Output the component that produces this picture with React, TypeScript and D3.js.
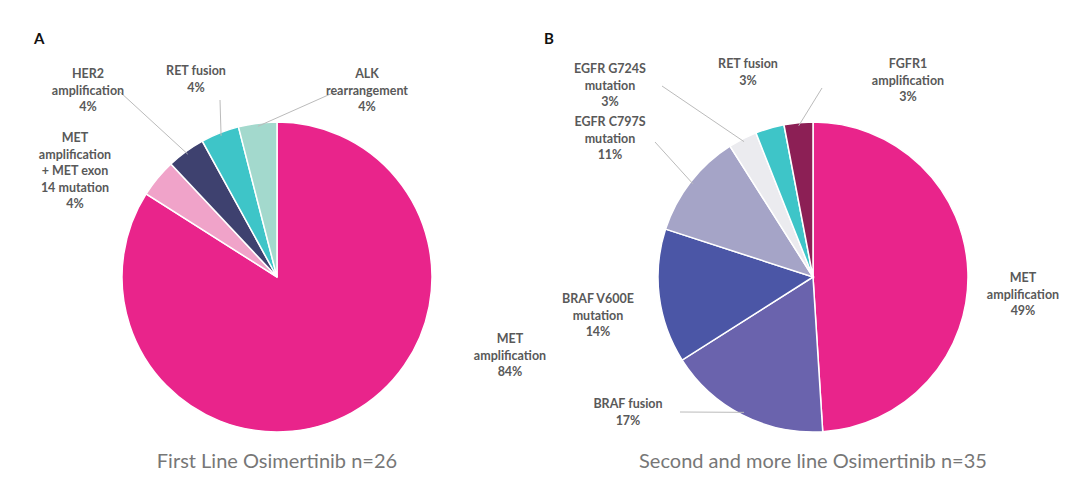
import React from 'react';
import * as d3 from 'd3';

const labelsA = ['MET amplification', 'MET amplification + MET exon 14 mutation', 'HER2 amplification', 'RET fusion', 'ALK rearrangement'];
const valuesA = [84, 4, 4, 4, 4];
const colorsA = ['#e9248b', '#f0a3c9', '#3e416f', '#3ec5c8', '#a3d9cd'];
const textA = [
  ['MET', 'amplification', '84%'],
  ['MET', 'amplification', '+ MET exon', '14 mutation', '4%'],
  ['HER2', 'amplification', '4%'],
  ['RET fusion', '4%'],
  ['ALK', 'rearrangement', '4%'],
];
const posA: [number, number, boolean][] = [[510, 343, false], [75, 142, false], [88, 78, true], [196, 75, true], [367, 78, true]];

const labelsB = ['MET amplification', 'BRAF fusion', 'BRAF V600E mutation', 'EGFR C797S mutation', 'EGFR G724S mutation', 'RET fusion', 'FGFR1 amplification'];
const valuesB = [49, 17, 14, 11, 3, 3, 3];
const colorsB = ['#e9248b', '#6a63ad', '#4b56a6', '#a5a4c7', '#ebebef', '#3ec5c8', '#8c1f55'];
const textB = [
  ['MET', 'amplification', '49%'],
  ['BRAF fusion', '17%'],
  ['BRAF V600E', 'mutation', '14%'],
  ['EGFR C797S', 'mutation', '11%'],
  ['EGFR G724S', 'mutation', '3%'],
  ['RET fusion', '3%'],
  ['FGFR1', 'amplification', '3%'],
];
const posB: [number, number, boolean][] = [[1023, 282, false], [628, 408, true], [598, 303, false], [610, 126, true], [610, 73, true], [748, 68, false], [908, 68, true]];
// leader line start points (next to the label)
const leadA: ([number, number] | null)[] = [null, null, [120, 92], [220, 100], [335, 92]];
const leadB: ([number, number] | null)[] = [null, [680, 412], null, [655, 142], [662, 86], null, [822, 88]];

function Pie({ cx, cy, values, colors, texts, pos, leads, title, letter, lx }: any) {
  const r = 155;
  const arcs = d3.pie<number>().sort(null).value((d) => d)(values);
  const arc = d3.arc<d3.PieArcDatum<number>>().innerRadius(0).outerRadius(r);
  const edge = d3.arc<d3.PieArcDatum<number>>().innerRadius(r * 0.98).outerRadius(r * 0.98);
  return (
    <g>
      <text x={lx} y={44} fontSize={15} fontWeight="bold" fill="#111">{letter}</text>
      <g transform={`translate(${cx},${cy})`}>
        {arcs.map((a, i) => (
          <path key={i} d={arc(a) || ''} fill={colors[i]} stroke="#fff" strokeWidth={1.5} />
        ))}
      </g>
      {arcs.map((a, i) => {
        const l = leads[i];
        if (!l) return null;
        const [ex, ey] = edge.centroid(a);
        return <line key={'l' + i} x1={l[0]} y1={l[1]} x2={cx + ex} y2={cy + ey} stroke="#bbb" strokeWidth={1} />;
      })}
      {texts.map((lines: string[], i: number) => (
        <text key={'t' + i} textAnchor="middle" fontSize={12.5} fontWeight="bold" fill="#595959">
          {lines.map((s, j) => (
            <tspan key={j} x={pos[i][0]} y={pos[i][1] + j * 16.5}>{s}</tspan>
          ))}
        </text>
      ))}
      <text x={cx} y={468} textAnchor="middle" fontSize={20} fill="#777">{title}</text>
    </g>
  );
}

export default function App() {
  return (
    <svg width={1080} height={480} style={{ position: 'absolute', left: 0, top: 0, fontFamily: 'Lato, "Open Sans", sans-serif', background: '#fff' }}>
      <Pie cx={277} cy={277} values={valuesA} colors={colorsA} texts={textA} pos={posA} leads={leadA}
        title="First Line Osimertinib n=26" letter="A" lx={34} labels={labelsA} />
      <Pie cx={813} cy={277} values={valuesB} colors={colorsB} texts={textB} pos={posB} leads={leadB}
        title="Second and more line Osimertinib n=35" letter="B" lx={544} labels={labelsB} />
    </svg>
  );
}
